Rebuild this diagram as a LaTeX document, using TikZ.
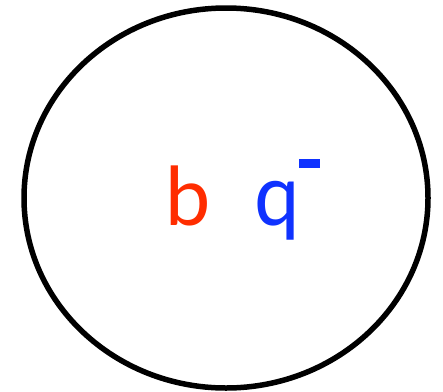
\documentclass[tikz,border=0pt]{standalone}
\usepackage{fontspec}
\setmainfont{Lato}
\definecolor{qred}{RGB}{255,45,0}
\definecolor{qblue}{RGB}{15,50,255}
\begin{document}
\begin{tikzpicture}[x=1pt,y=1pt,
  lbl/.style={inner sep=0pt,anchor=base,font=\fontsize{81}{90}\selectfont}]
\useasboundingbox (0,0) rectangle (443,-391);
\draw[line width=5.5pt] (226,-198) ellipse [x radius=202, y radius=190];
\node[lbl,text=qred] (b) at (188,-225) {b};
\node[lbl,text=qblue,yscale=1.06] (q) at (277,-225) {q};
\node[fill=qblue,inner sep=0pt,minimum width=21pt,minimum height=9pt] (bar) at (309.5,-163.5) {};
\end{tikzpicture}
\end{document}
